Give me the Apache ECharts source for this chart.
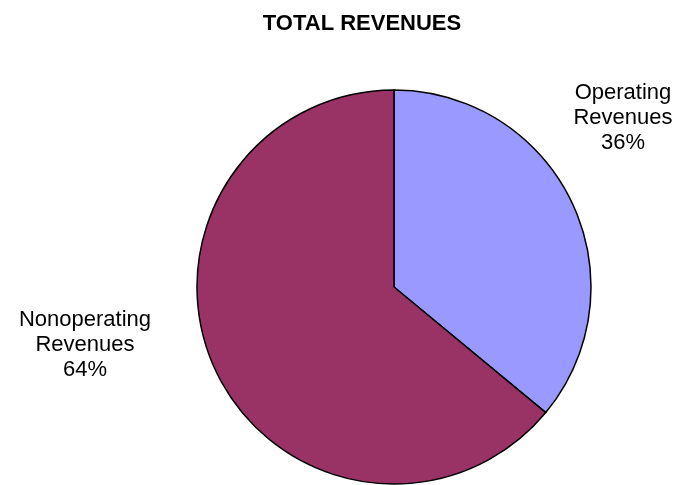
<!DOCTYPE html>
<html>
<head>
<meta charset="utf-8">
<script src="https://cdn.jsdelivr.net/npm/echarts@6/dist/echarts.min.js"></script>
<style>html,body{margin:0;padding:0;background:#fff}#c{width:680px;height:485px}</style>
</head>
<body>
<div id="c"></div>
<script>
const titleText = 'TOTAL REVENUES';
const categories = ['Operating\nRevenues', 'Nonoperating\nRevenues'];
const values = [36, 64];
const colors = ['#9999FF', '#993366'];

const chart = echarts.init(document.getElementById('c'), null, {renderer: 'canvas'});
const labelPos = [[623, 118], [85, 345]];
chart.setOption({
  animation: false,
  backgroundColor: '#fff',
  title: {
    text: titleText,
    left: 357, top: 8, textAlign: 'center',
    textStyle: {fontFamily: 'Liberation Sans, Arial', fontSize: 22, fontWeight: 'bold', color: '#000'}
  },
  series: [{
    type: 'pie',
    center: [394, 287],
    radius: 197,
    startAngle: 90,
    clockwise: true,
    silent: true,
    data: categories.map((c, i) => ({name: c, value: values[i], itemStyle: {color: colors[i]}})),
    itemStyle: {borderColor: '#000', borderWidth: 1.5},
    label: {
      show: true, position: 'outside', overflow: 'none',
      formatter: p => p.name + '\n' + Math.round(p.percent) + '%',
      fontFamily: 'Liberation Sans, Arial', fontSize: 22, lineHeight: 25, color: '#000', align: 'center'
    },
    labelLine: {show: false},
    labelLayout: p => ({x: labelPos[p.dataIndex][0], y: labelPos[p.dataIndex][1], align: 'center', verticalAlign: 'middle'})
  }]
});
</script>
</body>
</html>
